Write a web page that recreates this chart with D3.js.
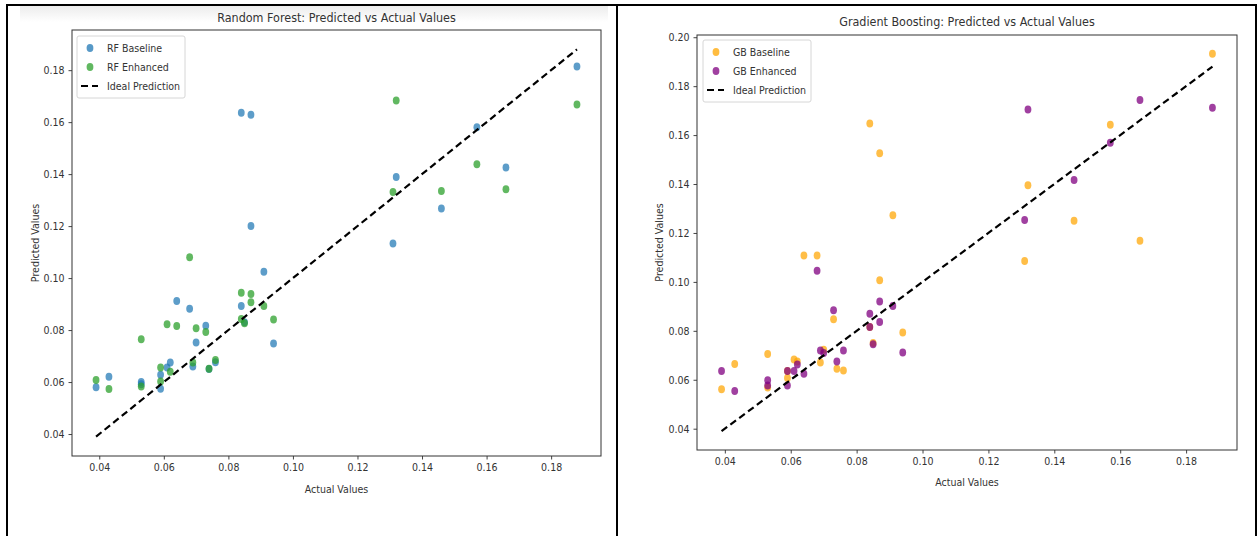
<!DOCTYPE html>
<html>
<head>
<meta charset="utf-8">
<script src="https://cdn.jsdelivr.net/npm/d3@7"></script>
<style>
body { margin: 0; background: #fff; }
text { font-family: "DejaVu Sans", sans-serif; fill: #333; }
</style>
</head>
<body>
<script>
// actual target values (same test set for both models)
var actual = [0.039, 0.043, 0.053, 0.053, 0.059, 0.059, 0.061, 0.062, 0.064, 0.068,
	0.069, 0.070, 0.073, 0.074, 0.076, 0.084, 0.084, 0.085, 0.087, 0.087,
	0.091, 0.094, 0.131, 0.132, 0.146, 0.157, 0.166, 0.188];

var rfBaseline = [0.0580, 0.0620, 0.0600, 0.0592, 0.0628, 0.0574, 0.0656, 0.0675, 0.0912, 0.0882,
	0.0660, 0.0752, 0.0817, 0.0650, 0.0676, 0.1636, 0.0893, 0.0830, 0.1628, 0.1200,
	0.1024, 0.0748, 0.1133, 0.1389, 0.1268, 0.1580, 0.1425, 0.1814];

var rfEnhanced = [0.0608, 0.0573, 0.0765, 0.0583, 0.0656, 0.0602, 0.0822, 0.0640, 0.0816, 0.1080,
	0.0675, 0.0807, 0.0793, 0.0651, 0.0685, 0.0944, 0.0843, 0.0826, 0.0939, 0.0907,
	0.0893, 0.0841, 0.1331, 0.1683, 0.1335, 0.1438, 0.1342, 0.1668];

var gbBaseline = [0.0561, 0.0664, 0.0705, 0.0568, 0.0607, 0.0636, 0.0683, 0.0675, 0.1108, 0.1108,
	0.0671, 0.0723, 0.0847, 0.0645, 0.0638, 0.1647, 0.0816, 0.0750, 0.1007, 0.1526,
	0.1272, 0.0793, 0.1085, 0.1395, 0.1250, 0.1642, 0.1168, 0.1932];

var gbEnhanced = [0.0636, 0.0554, 0.0598, 0.0577, 0.0636, 0.0577, 0.0636, 0.0662, 0.0625, 0.1046,
	0.0720, 0.0709, 0.0884, 0.0675, 0.0720, 0.0870, 0.0816, 0.0745, 0.0920, 0.0836,
	0.0901, 0.0711, 0.1253, 0.1705, 0.1416, 0.1569, 0.1743, 0.1712];

var xTicks = [0.04, 0.06, 0.08, 0.10, 0.12, 0.14, 0.16, 0.18];
var rfYTicks = [0.04, 0.06, 0.08, 0.10, 0.12, 0.14, 0.16, 0.18];
var gbYTicks = [0.04, 0.06, 0.08, 0.10, 0.12, 0.14, 0.16, 0.18, 0.20];

var rfLegend = ["RF Baseline", "RF Enhanced", "Ideal Prediction"];
var gbLegend = ["GB Baseline", "GB Enhanced", "Ideal Prediction"];

var W = 1257, H = 536;
var squeeze = 0.86; // the screenshot is narrowed horizontally

var svg = d3.select("body").append("svg")
	.attr("width", W)
	.attr("height", H);

// faint header band of the left picture
var defs = svg.append("defs");
var grad = defs.append("linearGradient")
	.attr("id", "band")
	.attr("x1", 0).attr("y1", 0).attr("x2", 0).attr("y2", 1);
grad.append("stop").attr("offset", "0%").attr("stop-color", "#ececec");
grad.append("stop").attr("offset", "100%").attr("stop-color", "#ffffff");
svg.append("rect")
	.attr("x", 20).attr("y", 6)
	.attr("width", 588).attr("height", 16)
	.attr("fill", "url(#band)");

function drawPanel(p){
	var g = svg.append("g");

	var xExt = d3.extent(actual);
	var yExt = d3.extent(actual.concat(p.base, p.enh));
	var xPad = (xExt[1] - xExt[0]) * 0.05;
	var yPad = (yExt[1] - yExt[0]) * 0.05;

	var x = d3.scaleLinear()
		.domain([xExt[0] - xPad, xExt[1] + xPad])
		.range([p.left, p.right]);
	var y = d3.scaleLinear()
		.domain([yExt[0] - yPad, yExt[1] + yPad])
		.range([p.bottom, p.top]);

	// axes
	var xAxis = g.append("g")
		.attr("transform", "translate(0," + p.bottom + ")")
		.call(d3.axisBottom(x).tickValues(xTicks).tickSize(3.5).tickPadding(4).tickFormat(d3.format(".2f")));
	var yAxis = g.append("g")
		.attr("transform", "translate(" + p.left + ",0)")
		.call(d3.axisLeft(y).tickValues(p.yTicks).tickSize(3.5).tickPadding(4).tickFormat(d3.format(".2f")));
	[xAxis, yAxis].forEach(function(a){
		a.select(".domain").remove();
		a.selectAll("line").attr("stroke", "#444");
		a.selectAll("text").attr("font-size", 11).attr("fill", "#333");
	});

	// points
	var pts = actual.map(function(a, i){ return { a: a, b: p.base[i], e: p.enh[i] }; });
	g.selectAll("ellipse.base").data(pts).enter()
		.append("ellipse")
		.attr("class", "base")
		.attr("cx", function(d){ return x(d.a); })
		.attr("cy", function(d){ return y(d.b); })
		.attr("rx", 3.4).attr("ry", 4)
		.attr("fill", p.colors[0])
		.attr("fill-opacity", 0.72);
	g.selectAll("ellipse.enh").data(pts).enter()
		.append("ellipse")
		.attr("class", "enh")
		.attr("cx", function(d){ return x(d.a); })
		.attr("cy", function(d){ return y(d.e); })
		.attr("rx", 3.4).attr("ry", 4)
		.attr("fill", p.colors[1])
		.attr("fill-opacity", 0.75);

	// ideal line
	g.append("line")
		.attr("x1", x(xExt[0])).attr("y1", y(xExt[0]))
		.attr("x2", x(xExt[1])).attr("y2", y(xExt[1]))
		.attr("stroke", "#000")
		.attr("stroke-width", 2.2)
		.attr("stroke-dasharray", "7,4");

	// frame
	g.append("rect")
		.attr("x", p.left).attr("y", p.top)
		.attr("width", p.right - p.left).attr("height", p.bottom - p.top)
		.attr("fill", "none")
		.attr("stroke", "#333")
		.attr("stroke-width", 1);

	// titles
	g.append("text")
		.attr("x", (p.left + p.right) / 2).attr("y", p.titleY)
		.attr("text-anchor", "middle")
		.attr("font-size", 13)
		.text(p.title);
	g.append("text")
		.attr("x", (p.left + p.right) / 2).attr("y", p.xLabelY)
		.attr("text-anchor", "middle")
		.attr("font-size", 11)
		.text("Actual Values");
	g.append("text")
		.attr("transform", "translate(" + p.yLabelX + "," + ((p.top + p.bottom) / 2) + ") rotate(-90)")
		.attr("text-anchor", "middle")
		.attr("font-size", 11)
		.text("Predicted Values");

	// legend
	var lg = g.append("g").attr("transform", "translate(" + p.legend[0] + "," + p.legend[1] + ")");
	lg.append("rect")
		.attr("width", 108).attr("height", 62)
		.attr("rx", 2)
		.attr("fill", "#fff")
		.attr("fill-opacity", 0.8)
		.attr("stroke", "#d6d6d6");
	p.labels.forEach(function(l, i){
		var ly = 12 + i * 19;
		if(i < 2){
			lg.append("ellipse")
				.attr("cx", 13).attr("cy", ly)
				.attr("rx", 3.4).attr("ry", 4)
				.attr("fill", p.colors[i])
				.attr("fill-opacity", 0.75);
		} else {
			lg.append("line")
				.attr("x1", 4).attr("x2", 21)
				.attr("y1", ly).attr("y2", ly)
				.attr("stroke", "#000")
				.attr("stroke-width", 2.2)
				.attr("stroke-dasharray", "7,4");
		}
		lg.append("text")
			.attr("x", 30).attr("y", ly + 4)
			.attr("font-size", 11)
			.text(l);
	});
}

drawPanel({
	base: rfBaseline, enh: rfEnhanced, yTicks: rfYTicks,
	left: 72, right: 601, top: 30, bottom: 456,
	colors: ["#1f77b4", "#2ca02c"],
	title: "Random Forest: Predicted vs Actual Values",
	titleY: 22, xLabelY: 493, yLabelX: 39,
	legend: [77, 36], labels: rfLegend
});

drawPanel({
	base: gbBaseline, enh: gbEnhanced, yTicks: gbYTicks,
	left: 697, right: 1237, top: 35, bottom: 450,
	colors: ["#ffa500", "#800080"],
	title: "Gradient Boosting: Predicted vs Actual Values",
	titleY: 26, xLabelY: 486, yLabelX: 663,
	legend: [703, 40], labels: gbLegend
});

// squeeze every label horizontally like the source image
svg.selectAll("text").each(function(){
	var len = this.getComputedTextLength();
	d3.select(this)
		.attr("textLength", len * squeeze)
		.attr("lengthAdjust", "spacingAndGlyphs");
});

// table borders of the document
var border = [[6, 5, W, 5], [7, 4, 7, H], [617, 4, 617, H], [1256, 4, 1256, H]];
border.forEach(function(b){
	svg.append("line")
		.attr("x1", b[0]).attr("y1", b[1]).attr("x2", b[2]).attr("y2", b[3])
		.attr("stroke", "#000")
		.attr("stroke-width", 2);
});
</script>
</body>
</html>
